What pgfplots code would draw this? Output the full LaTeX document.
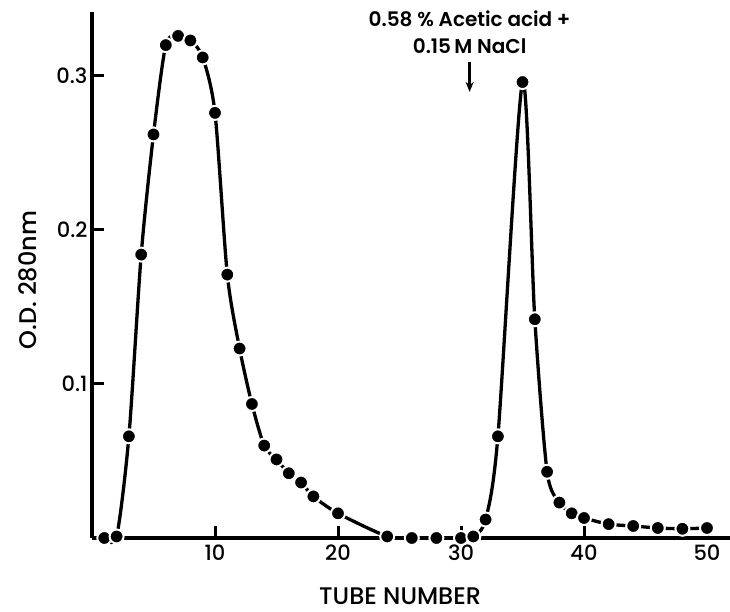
\documentclass[border=0pt]{standalone}
\usepackage{fontspec}
\setmainfont{Poppins}[UprightFont=* Medium, BoldFont=* SemiBold]
\usepackage{pgfplots}
\pgfplotsset{compat=1.18}
\usetikzlibrary{arrows.meta}

% O.D. 280nm per tube
\pgfplotstableread{
tube od
1  0.000
2  0.001
3  0.066
4  0.184
5  0.262
6  0.320
7  0.326
8  0.323
9  0.312
10 0.276
11 0.171
12 0.123
13 0.087
14 0.060
15 0.051
16 0.042
17 0.036
18 0.027
20 0.016
24 0.001
26 0.000
28 0.000
30 0.000
31 0.001
32 0.012
33 0.066
35 0.296
36 0.142
37 0.043
38 0.023
39 0.016
40 0.013
42 0.009
44 0.0078
46 0.0065
48 0.006
50 0.0065
}\elution

\begin{document}
\begin{tikzpicture}
\begin{axis}[
    scale only axis,
    width=638pt, height=526pt,
    xmin=0, xmax=51.87,
    ymin=0, ymax=0.3415,
    clip=false,
    axis lines=left,
    axis line style={line width=3.2pt, -},
    xtick={10,20,30,40,50},
    ytick={0.1,0.2,0.3},
    tick align=inside,
    major tick length=12pt,
    tick style={line width=3pt, black},
    /pgf/number format/assume math mode=true,
    yticklabel style={/pgf/number format/fixed, /pgf/number format/precision=1},
    tick label style={font=\fontsize{21}{24}\selectfont},
    xticklabel style={yshift=-3pt},
    yticklabel style={xshift=-1pt},
    xlabel={TUBE NUMBER},
    ylabel={O.D. 280nm},
    label style={font=\fontsize{24}{28}\selectfont},
    xlabel style={at={(axis description cs:0.483,-0.110)}, anchor=center},
    ylabel style={at={(axis description cs:-0.100,0.49)}, anchor=center},
  ]
  \addplot[black, line width=3.3pt, smooth, tension=0.45,
    mark=*, mark size=7pt,
    mark options={fill=black, draw=white, line width=2pt}]
    table[x=tube, y=od] {\elution};

  \node[align=center, font=\bfseries\fontsize{20}{27}\selectfont, anchor=south]
    at (axis cs:30.7,0.312) {0.58 \% Acetic acid +\\0.15\,M NaCl};
  \draw[-{Stealth[length=10pt,width=8pt]}, line width=2.4pt]
    (axis cs:30.7,0.309) -- (axis cs:30.7,0.2896);
\end{axis}
\pgfresetboundingbox
\path (-92pt,-74pt) rectangle (638pt,538pt);
\end{tikzpicture}
\end{document}
